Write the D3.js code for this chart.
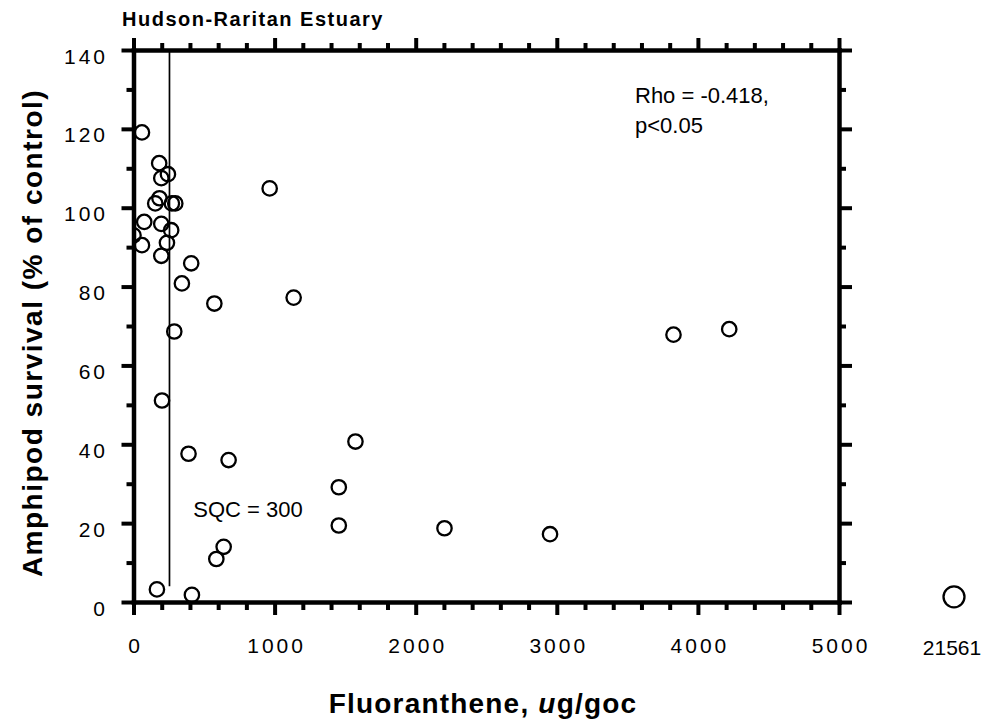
<!DOCTYPE html>
<html>
<head>
<meta charset="utf-8">
<script src="https://cdn.jsdelivr.net/npm/d3@7"></script>
<style>
  html, body { margin: 0; padding: 0; background: #fff; }
  svg { display: block; font-family: Arial, "Liberation Sans", Helvetica, sans-serif; }
</style>
</head>
<body>
<svg id="chart" width="987" height="726"></svg>
<script>
// ---- data ----
const fluoranthene = [60, 182, 244, 197, 184, 154, 272, 296, 76, 197, 267, 0, 60, 237, 197, 409, 343, 965, 573, 1135, 289, 202, 390, 674, 1573, 1455, 1455, 2204, 2952, 639, 587, 166, 414, 3827, 4222];
const survival     = [119.1, 111.3, 108.5, 107.5, 102.4, 101.1, 101.1, 101.1, 96.4, 95.9, 94.3, 93.0, 90.5, 91.1, 87.8, 85.9, 80.8, 104.9, 75.7, 77.2, 68.6, 51.1, 37.6, 36.0, 40.7, 29.1, 19.4, 18.7, 17.2, 14.0, 10.9, 3.2, 1.8, 67.8, 69.2];
const outlierLabels = ["21561"];
const outlierSurvival = [1.3];
const xMajorTicks = [0, 1000, 2000, 3000, 4000, 5000];
const xMinorTicks = [200, 400, 600, 800, 1200, 1400, 1600, 1800, 2200, 2400, 2600, 2800, 3200, 3400, 3600, 3800, 4200, 4400, 4600, 4800];
const yMajorTicks = [0, 20, 40, 60, 80, 100, 120, 140];
const yMinorTicks = [10, 30, 50, 70, 90, 110, 130];
const sqcValue = 255;          // where the SQC line is drawn
const sqcLineRange = [4, 140];
const titleText = "Hudson-Raritan Estuary";
const rhoLines = ["Rho = -0.418,", "p<0.05"];
const sqcLabel = "SQC = 300";

// ---- layout ----
const svg = d3.select("#chart");
const mLeft = 133.5, mRight = 839, mTop = 50, mBottom = 602;

const x = d3.scaleLinear().domain([0, 5000]).range([mLeft, mRight]);
const y = d3.scaleLinear().domain([0, 140]).range([mBottom, mTop]);
const xBreak = d3.scalePoint().domain(outlierLabels).range([mRight + 72, mRight + 158]).padding(0.5);

svg.append("defs").append("clipPath").attr("id", "plotClip")
  .append("rect").attr("x", mLeft).attr("y", mTop).attr("width", mRight - mLeft).attr("height", mBottom - mTop + 10);

const axisW = 4.5;
function styleAxis(g, fontSize, ls) {
  g.select(".domain").attr("stroke", "#000").attr("stroke-width", axisW).attr("stroke-linecap", "square");
  g.selectAll(".tick line").attr("stroke", "#000").attr("stroke-width", 4);
  g.selectAll("text").attr("font-size", fontSize).attr("letter-spacing", ls).attr("fill", "#000")
    .attr("font-family", "Arial, 'Liberation Sans', sans-serif");
}

function minor(axisGen, transform) {
  const g = svg.append("g").attr("transform", transform).call(axisGen);
  g.select(".domain").remove();
  g.selectAll("text").remove();
  g.selectAll(".tick line").attr("stroke", "#000").attr("stroke-width", 4);
}
minor(d3.axisBottom(x).tickValues(xMinorTicks).tickSize(8).tickSizeOuter(0), `translate(0,${mBottom})`);
minor(d3.axisTop(x).tickValues(xMinorTicks).tickSize(7).tickSizeOuter(0), `translate(0,${mTop})`);
minor(d3.axisLeft(y).tickValues(yMinorTicks).tickSize(7).tickSizeOuter(0), `translate(${mLeft},0)`);
minor(d3.axisRight(y).tickValues(yMinorTicks).tickSize(7).tickSizeOuter(0), `translate(${mRight},0)`);

const gx = svg.append("g").attr("transform", `translate(0,${mBottom})`)
  .call(d3.axisBottom(x).tickValues(xMajorTicks).tickFormat(d3.format("d")).tickSize(13).tickSizeOuter(0));
styleAxis(gx, 21, 3);
gx.selectAll("text").attr("y", 51).attr("dy", 0).attr("dx", 1.5);

const gxt = svg.append("g").attr("transform", `translate(0,${mTop})`)
  .call(d3.axisTop(x).tickValues(xMajorTicks).tickFormat("").tickSize(12).tickSizeOuter(0));
styleAxis(gxt, 21, 0);

const gy = svg.append("g").attr("transform", `translate(${mLeft},0)`)
  .call(d3.axisLeft(y).tickValues(yMajorTicks).tickFormat(d3.format("d")).tickSize(12).tickSizeOuter(0));
styleAxis(gy, 21, 3);
gy.selectAll("text").attr("x", -25.5).attr("dy", 13);

const gyr = svg.append("g").attr("transform", `translate(${mRight},0)`)
  .call(d3.axisRight(y).tickValues(yMajorTicks).tickFormat("").tickSize(13).tickSizeOuter(0));
styleAxis(gyr, 21, 0);

svg.append("line")
  .attr("x1", x(sqcValue)).attr("x2", x(sqcValue))
  .attr("y1", y(sqcLineRange[1])).attr("y2", y(sqcLineRange[0]))
  .attr("stroke", "#000").attr("stroke-width", 1.7);

const pts = fluoranthene.map((v, i) => ({ x: v, y: survival[i] }));
svg.append("g").attr("clip-path", "url(#plotClip)")
  .selectAll("circle").data(pts).join("circle")
  .attr("cx", d => x(d.x)).attr("cy", d => y(d.y)).attr("r", 7.2)
  .attr("fill", "none").attr("stroke", "#000").attr("stroke-width", 2.3);

svg.append("g").selectAll("circle").data(outlierLabels).join("circle")
  .attr("cx", d => xBreak(d)).attr("cy", (d, i) => y(outlierSurvival[i])).attr("r", 10.5)
  .attr("fill", "none").attr("stroke", "#000").attr("stroke-width", 2.3);
svg.append("g").selectAll("text").data(outlierLabels).join("text")
  .attr("x", d => xBreak(d) - 2).attr("y", 655).attr("text-anchor", "middle")
  .attr("font-size", 21).text(d => d);

svg.append("text").attr("x", 122).attr("y", 26)
  .attr("font-size", 20).attr("font-weight", "bold").attr("letter-spacing", 1.5)
  .text(titleText);

svg.append("g").selectAll("text").data(rhoLines).join("text")
  .attr("x", 635).attr("y", (d, i) => 102.7 + i * 30.6)
  .attr("font-size", 22).text(d => d);
svg.append("text").attr("x", 193.3).attr("y", 517.3).attr("font-size", 22).text(sqcLabel);

const xt = svg.append("text").attr("x", 483).attr("y", 713).attr("text-anchor", "middle")
  .attr("font-size", 28).attr("font-weight", "bold").attr("letter-spacing", 1.2);
xt.append("tspan").text("Fluoranthene, ");
xt.append("tspan").attr("font-style", "italic").text("u");
xt.append("tspan").text("g/goc");

svg.append("text").attr("transform", "translate(41.5,333) rotate(-90)")
  .attr("text-anchor", "middle").attr("font-size", 28).attr("font-weight", "bold")
  .attr("letter-spacing", 1.5)
  .text("Amphipod survival (% of control)");
</script>
</body>
</html>
